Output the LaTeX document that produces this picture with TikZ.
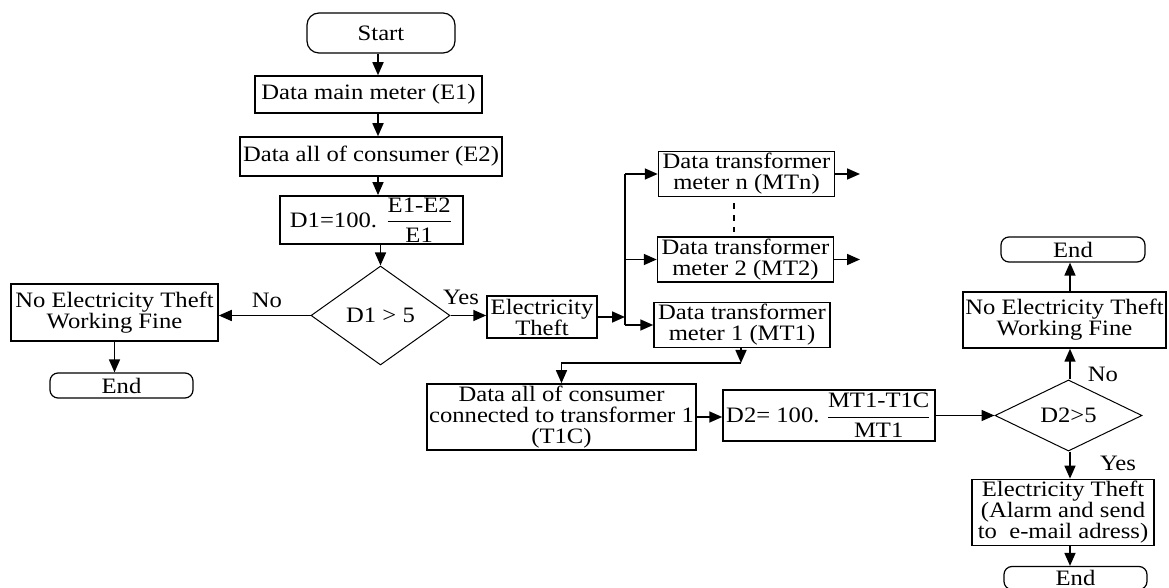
\documentclass[tikz,border=0pt]{standalone}
\usepackage{amsmath}
\usepackage{fontspec}
\setmainfont{Liberation Serif}[FakeStretch=1.12]
\usetikzlibrary{shapes.geometric,arrows.meta}

\begin{document}
\begin{tikzpicture}[x=0.5pt,y=-0.5pt,
  font=\fontsize{11}{10.5}\selectfont,
  box/.style={draw,line width=0.75pt,inner sep=1pt,align=center},
  term/.style={draw,line width=0.6pt,rounded corners=4pt,inner sep=1pt},
  decide/.style={draw,diamond,line width=0.5pt,inner sep=0pt},
  arr/.style={line width=0.8pt,-{Triangle[length=6.5pt,width=5.5pt]}}]
\useasboundingbox (0,0) rectangle (1169,588);
% main column
\node[term,rounded corners=6pt,minimum width=74pt,minimum height=20pt] (start) at (381,33) {Start};
\node[box,minimum width=113.5pt,minimum height=18.5pt] (main) at (368.5,94.5) {Data main meter (E1)};
\node[box,minimum width=131pt,minimum height=19.5pt] (allcons) at (371,156.5) {Data all of consumer (E2)};
\node[box,minimum width=91.5pt,minimum height=24pt] (done) at (371.5,220) {D1=100. $\dfrac{\text{E1-E2}}{\text{E1}}$};
\node[decide,minimum width=69.5pt,minimum height=49.5pt] (dia1) at (380.5,315.5) {D1 > 5};
% no theft, left
\node[box,minimum width=103.5pt,minimum height=28.5pt] (nolft) at (114.5,312.5) {No Electricity Theft\\Working Fine};
\node[term,minimum width=71.5pt,minimum height=12.5pt] (endl) at (121.5,385.5) {End};
% theft and transformer meters
\node[box,minimum width=55pt,minimum height=21pt] (theft) at (542,317) {Electricity\\Theft};
\node[box,minimum width=88pt,minimum height=19pt] (mtn) at (746.5,174) {Data transformer\\meter n (MTn)};
\node[box,minimum width=88pt,minimum height=19pt] (mttwo) at (745.5,259.5) {Data transformer\\meter 2 (MT2)};
\node[box,minimum width=88pt,minimum height=19pt] (mtone) at (742,325) {Data transformer\\meter 1 (MT1)};
\node[box,minimum width=132.5pt,minimum height=30pt] (cons1) at (561.5,417) {Data all of consumer\\connected to transformer 1\\(T1C)};
\node[box,minimum width=106pt,minimum height=25.5pt] (dtwo) at (829,415.5) {D2= 100.\ $\dfrac{\text{MT1-T1C}}{\text{MT1}}$};
\node[decide,minimum width=73.5pt,minimum height=26.5pt] (dia2) at (1068.5,415.5) {D2>5};
% right column
\node[box,minimum width=101.5pt,minimum height=28pt] (nori) at (1064.5,320) {No Electricity Theft\\Working Fine};
\node[term,minimum width=72pt,minimum height=12.5pt] (endr) at (1073,249.5) {End};
\node[box,minimum width=91pt,minimum height=31.5pt] (yesbox) at (1063,512.5) {Electricity Theft\\(Alarm and send\\to~ e-mail adress)};
\node[term,minimum width=71.5pt,minimum height=11.5pt] (endb) at (1075.5,578) {End};
% labels
\node (nol) at (267,300) {No};
\node (yesl) at (461,297) {Yes};
\node (nor) at (1103,374) {No};
\node (yesr) at (1118,463) {Yes};
% helper points
\coordinate (col) at (378,0);
\coordinate (colr) at (1070,0);
\coordinate (bus) at (625,317);
\coordinate (elbow) at (741,363);
\coordinate (gap) at (734,0);
\coordinate (outn) at (860,174);
\coordinate (outtwo) at (860,259.5);
% connectors
\draw[arr] (start.south -| col) -- (main.north -| col);
\draw[arr] (main.south -| col) -- (allcons.north -| col);
\draw[arr] (allcons.south -| col) -- (done.north -| col);
\draw[arr] (done.south -| dia1) -- (dia1.north);
\draw[arr] (dia1.west) -- (nolft.east |- dia1.west);
\draw[arr] (nolft.south) -- (nolft.south |- endl.north);
\draw[arr] (dia1.east) -- (theft.west |- dia1.east);
\draw[arr] (theft.east) -- (bus);
\draw[line width=0.8pt] (bus |- mtn.west) -- (bus |- mtone.west);
\draw[arr] (bus |- mtn.west) -- (mtn.west);
\draw[arr] (bus |- mttwo.west) -- (mttwo.west);
\draw[arr] (bus |- mtone.west) -- (mtone.west);
\draw[arr] (mtn.east) -- (outn);
\draw[arr] (mttwo.east) -- (outtwo);
\draw[line width=0.8pt,dash pattern=on 3pt off 3pt,shorten <=3pt,shorten >=2pt] (mtn.south -| gap) -- (mttwo.north -| gap);
\draw[arr] (mtone.south -| elbow) -- (elbow);
\draw[arr] (elbow) -| (cons1.north);
\draw[arr] (cons1.east) -- (dtwo.west |- cons1.east);
\draw[arr] (dtwo.east) -- (dia2.west);
\draw[arr] (dia2.north -| colr) -- (nori.south -| colr);
\draw[arr] (nori.north -| colr) -- (endr.south -| colr);
\draw[arr] (dia2.south -| colr) -- (yesbox.north -| colr);
\draw[arr] (yesbox.south -| colr) -- (endb.north -| colr);
\end{tikzpicture}
\end{document}
